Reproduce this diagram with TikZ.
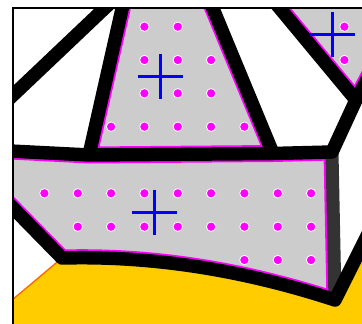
\documentclass[tikz,border=0pt]{standalone}
\usepackage{xcolor}
\usepackage{tikz}

\definecolor{cellgray}{HTML}{CCCCCC}
\definecolor{sunyellow}{HTML}{FFCC00}
\definecolor{rimorange}{HTML}{FF6600}
\definecolor{pinkrim}{RGB}{255,0,255}
\definecolor{crossblue}{RGB}{0,0,255}

\begin{document}
\begin{tikzpicture}[
    x=1pt, y=-1pt,
    edge/.style={black, line width=13.5pt, line join=round},
    softedge/.style={black!80, line width=13pt},
    cell/.style={fill=cellgray},
    rim/.style={draw=pinkrim, line width=17pt},
    dot/.style={circle, fill=pinkrim, draw=white, line width=0.8pt, inner sep=0pt, minimum size=9.4pt},
    cross/.style={crossblue, line width=3pt}
]
\fill[white] (0,0) rectangle (362,324);
\useasboundingbox (0,0) rectangle (362,324);

% Mesh vertices
\coordinate (A) at (127,-13);
\coordinate (B) at (89,155);
\coordinate (C) at (273,153.5);
\coordinate (D) at (332,152);
\coordinate (E) at (204,-13);
\coordinate (F) at (356,100);
\coordinate (G) at (62,258);
\coordinate (H) at (335,300);

% Loose ends outside the frame
\coordinate (P) at (263,-12);
\coordinate (Q) at (380,55);
\coordinate (R) at (380,210);
\coordinate (L1) at (-10,150);
\coordinate (L2) at (-10,184.5);
\coordinate (L3) at (-10,117);
\coordinate (L4) at (-10,318.5);

\begin{scope}
\clip (13,8) rectangle (372,334);

% Yellow region
\fill[sunyellow] (G) -- (L4) -- (-10,340) -- (380,340) -- (R) -- (H)
    .. controls (243.9,270.2) and (152.9,255.5) .. (G);
\draw[rimorange, line width=1.3pt] (G) -- (L4);

% Gray cells
\begin{scope}
\clip (A) -- (B) -- (C) -- (E) -- cycle;
\path[cell, rim] (A) -- (B) -- (C) -- (E) -- cycle;
\end{scope}
\begin{scope}
\clip (P) -- (F) -- (Q) -- (380,-12) -- cycle;
\path[cell, rim] (P) -- (F) -- (Q) -- (380,-12) -- cycle;
\end{scope}
\begin{scope}
\clip (L1) -- (B) -- (C) -- (D) -- (H) .. controls (243.9,270.2) and (152.9,255.5) .. (G) -- (L2) -- cycle;
\path[cell, rim] (L1) -- (B) -- (C) -- (D) -- (H) .. controls (243.9,270.2) and (152.9,255.5) .. (G) -- (L2) -- cycle;
\end{scope}

% Edges
\draw[softedge] (D) -- (H);
\draw[edge] (L3) -- (A) -- (B);
\draw[edge] (E) -- (C);
\draw[edge] (L1) -- (B) -- (C) -- (D) -- (F) -- (P);
\draw[edge] (F) -- (Q);
\draw[edge] (L2) -- (G) .. controls (152.9,255.5) and (243.9,270.2) .. (H) -- (R);
\end{scope}

% Frame
\draw[line width=2.2pt] (13,334) -- (13,8) -- (372,8);

% Dots
\foreach \x/\y in {144.4/26.7, 177.8/26.7,
    144.4/60, 177.8/60, 211.1/60,
    144.4/93.3, 177.8/93.3, 211.1/93.3,
    111.1/126.7, 144.4/126.7, 177.8/126.7, 211.1/126.7, 244.4/126.7,
    344.4/26.7, 344.4/60}
  \node[dot] at (\x,\y) {};
\foreach \x in {44.4, 77.8, 111.1, 144.4, 177.8, 211.1, 244.4, 277.8, 311.1}
  \node[dot] at (\x,193.3) {};
\foreach \x in {77.8, 111.1, 144.4, 177.8, 211.1, 244.4, 277.8, 311.1}
  \node[dot] at (\x,226.7) {};
\foreach \x in {244.4, 277.8, 311.1}
  \node[dot] at (\x,260) {};

% Crosses
\draw[cross] (160,76) +(-22.5,0) -- +(22.5,0) +(0,-22.5) -- +(0,22.5);
\draw[cross] (332,34) +(-22.5,0) -- +(22.5,0) +(0,-22.5) -- +(0,22.5);
\draw[cross] (154,212) +(-22.5,0) -- +(22.5,0) +(0,-22.5) -- +(0,22.5);

\end{tikzpicture}
\end{document}
